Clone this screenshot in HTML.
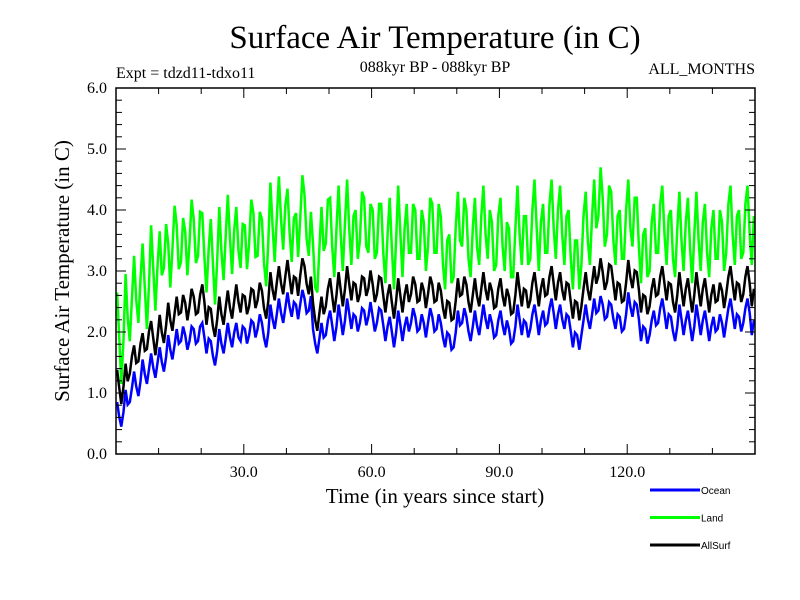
<!DOCTYPE html>
<html><head><meta charset="utf-8"><style>
body{margin:0;background:#fff;}
svg{display:block;font-family:"Liberation Serif",serif;}
</style></head><body>
<svg id="chart" width="800" height="600">
<rect width="800" height="600" fill="#fff"/>
<text x="435" y="48" font-size="33" text-anchor="middle">Surface Air Temperature (in C)</text>
<text x="116" y="78" font-size="16">Expt = tdzd11-tdxo11</text>
<text x="435" y="72" font-size="16" text-anchor="middle">088kyr BP - 088kyr BP</text>
<text x="755" y="74" font-size="16" text-anchor="end">ALL_MONTHS</text>
<text x="435" y="503" font-size="21" text-anchor="middle">Time (in years since start)</text>
<text transform="translate(69,271) rotate(-90)" font-size="21" text-anchor="middle">Surface Air Temperature (in C)</text>
<g id="plot"></g>
<g id="axes"></g>
<g id="legend"></g>
</svg>
<script>
const years=[];for(let i=0;i<150;i++)years.push(i+0.5);
const ocean=[0.7,0.6,0.9,1.0,1.2,1.1,1.4,1.3,1.5,1.4,
1.6,1.5,1.8,1.7,1.9,2.0,1.8,2.0,1.9,2.0,
2.0,1.8,1.7,1.6,1.9,1.8,2.0,1.9,2.0,2.0,
1.9,2.1,2.0,2.2,2.0,1.9,2.3,2.2,2.4,2.3,
2.5,2.4,2.3,2.6,2.4,2.5,1.9,1.8,2.0,2.1,
2.2,2.0,2.3,2.1,2.4,2.2,2.1,2.3,2.2,2.4,
2.1,2.3,2.2,2.0,2.1,1.9,2.2,2.0,2.1,2.3,
2.1,2.2,2.0,2.3,2.1,2.2,2.0,1.9,1.8,1.9,
2.2,2.3,2.1,2.0,2.2,2.1,2.3,2.2,2.0,2.1,
2.2,2.1,1.9,2.0,2.3,2.1,2.0,2.2,2.3,2.1,
2.2,2.3,2.4,2.2,2.3,2.2,2.1,1.9,1.8,2.1,
2.3,2.2,2.4,2.5,2.3,2.4,2.3,2.2,2.1,2.2,
2.5,2.4,2.3,2.0,1.9,2.1,2.2,2.3,2.4,2.2,
2.1,2.0,2.3,2.1,2.2,2.0,2.3,2.1,2.2,2.0,
2.1,2.2,2.0,2.3,2.4,2.2,2.1,2.3,2.4,2.1];
const land=[2.2,1.6,2.5,2.3,2.8,2.6,3.0,2.5,3.3,2.8,
3.2,3.5,3.0,3.8,3.3,3.6,3.2,3.9,3.4,3.7,
3.5,3.1,3.4,2.9,3.6,3.3,3.8,3.4,3.6,3.5,
3.3,3.9,3.5,3.7,3.4,3.2,4.0,3.6,4.1,3.8,
3.9,3.6,3.5,4.3,3.8,3.7,3.0,3.1,3.6,3.9,
3.7,3.4,3.9,3.5,4.0,3.6,3.5,4.0,3.7,3.8,
3.5,3.8,3.6,3.3,3.7,3.2,3.9,3.4,3.6,3.8,
3.5,3.7,3.3,3.9,3.6,3.8,3.4,3.2,3.1,3.4,
3.8,3.9,3.5,3.4,3.7,3.6,3.9,3.7,3.3,3.6,
3.7,3.5,3.2,3.4,3.9,3.6,3.4,3.7,4.0,3.5,
3.6,3.8,4.0,3.7,3.9,3.6,3.5,3.2,3.0,3.6,
3.8,3.6,4.0,4.4,3.7,4.1,3.8,3.6,3.5,3.7,
4.0,3.9,3.7,3.3,3.2,3.5,3.6,3.8,3.9,3.6,
3.5,3.4,3.8,3.5,3.7,3.3,3.8,3.5,3.6,3.4,
3.5,3.7,3.3,3.8,3.9,3.6,3.5,3.8,3.9,3.6];
const allSurf=[1.2,1.0,1.3,1.5,1.6,1.7,1.8,1.9,2.0,1.8,
2.1,2.0,2.3,2.2,2.4,2.5,2.3,2.6,2.4,2.5,
2.6,2.3,2.2,2.1,2.4,2.3,2.5,2.4,2.6,2.5,
2.4,2.6,2.5,2.7,2.5,2.4,2.8,2.7,2.9,2.8,
3.0,2.8,2.7,3.1,2.9,2.8,2.3,2.2,2.4,2.6,
2.7,2.5,2.8,2.6,2.9,2.7,2.6,2.8,2.7,2.9,
2.6,2.8,2.7,2.5,2.6,2.4,2.7,2.5,2.6,2.8,
2.6,2.7,2.5,2.8,2.6,2.7,2.5,2.4,2.3,2.4,
2.7,2.8,2.6,2.5,2.7,2.6,2.8,2.7,2.5,2.6,
2.7,2.6,2.4,2.5,2.8,2.6,2.5,2.7,2.8,2.6,
2.7,2.8,2.9,2.7,2.8,2.7,2.6,2.4,2.3,2.6,
2.8,2.7,2.9,3.1,2.8,3.0,2.9,2.7,2.6,2.7,
3.0,2.9,2.8,2.5,2.4,2.6,2.7,2.8,2.9,2.7,
2.6,2.5,2.8,2.6,2.7,2.5,2.8,2.6,2.7,2.5,
2.6,2.7,2.5,2.8,2.9,2.7,2.6,2.8,2.9,2.6];
// read half-width of the monthly noise band around each series
const oceanSpread=[0.15,0.15,0.15];
const landSpread=[0.45,0.5,0.5];
const allSurfSpread=[0.18,0.18,0.18];
const xTickLabels=[30,60,90,120];
const yTickLabels=[0,1,2,3,4,5,6];
const seriesNames=["Ocean","Land","AllSurf"];

const NS="http://www.w3.org/2000/svg";
const L=116,R=755,T=88,B=454,X0=0,X1=150,Y0=0,Y1=6;
const sx=v=>L+(v-X0)/(X1-X0)*(R-L);
const sy=v=>B-(v-Y0)/(Y1-Y0)*(B-T);
function mk(tag,attrs,parent){const e=document.createElementNS(NS,tag);for(const k in attrs)e.setAttribute(k,attrs[k]);parent.appendChild(e);return e;}
const plot=document.getElementById('plot'),axes=document.getElementById('axes'),legend=document.getElementById('legend');
const defs=mk('clipPath',{id:'clip'},plot);mk('rect',{x:L,y:T,width:R-L,height:B-T},defs);
const colors=["#0000ff","#00ff00","#000000"];
const data=[ocean,land,allSurf];
const spreads=[oceanSpread,landSpread,allSurfSpread];
data.forEach((arr,si)=>{
  const sp=spreads[si];
  let d='';
  arr.forEach((v,i)=>{
    const s=sp[Math.min(sp.length-1,Math.floor(i/50))];
    const sgn=(i%2===0)?1:-1;
    d+=(i?'L':'M')+sx(years[i]-0.25).toFixed(1)+','+sy(v+sgn*s).toFixed(1);
    d+='L'+sx(years[i]+0.25).toFixed(1)+','+sy(v-sgn*s*0.6).toFixed(1);
  });
  const p=mk('path',{d:d,fill:'none',stroke:colors[si],'stroke-width':2.5,'clip-path':'url(#clip)'},plot);
  
  
});
const fr=mk('rect',{x:L,y:T,width:R-L,height:B-T,fill:'none',stroke:'#000','stroke-width':1.5},axes);


for(let v=10;v<150;v+=10){
  const len=(v%30===0)?10:6;
  mk('line',{x1:sx(v),x2:sx(v),y1:B,y2:B-len,stroke:'#000'},axes);
  mk('line',{x1:sx(v),x2:sx(v),y1:T,y2:T+len,stroke:'#000'},axes);
}
xTickLabels.forEach(v=>{
  const t=mk('text',{x:sx(v),y:477,'font-size':16,'text-anchor':'middle'},axes);
  t.textContent=v.toFixed(1);
  
  
});
for(let k=1;k<30;k++){
  const v=k*0.2;const len=(k%5===0)?10:6;
  mk('line',{x1:L,x2:L+len,y1:sy(v),y2:sy(v),stroke:'#000'},axes);
  mk('line',{x1:R,x2:R-len,y1:sy(v),y2:sy(v),stroke:'#000'},axes);
}
yTickLabels.forEach(v=>{
  const t=mk('text',{x:107,y:sy(v)+5,'font-size':16,'text-anchor':'end'},axes);
  t.textContent=v.toFixed(1);
  
  
});
seriesNames.forEach((n,i)=>{
  const y=490+i*27.5;
  const g=mk('g',{},legend);
  
  
  mk('line',{x1:650,x2:700,y1:y,y2:y,stroke:colors[i],'stroke-width':3},g);
  const t=mk('text',{x:701,y:y+4,'font-size':10,'font-family':'Liberation Sans, sans-serif'},g);
  t.textContent=n;
});
</script>
</body></html>
